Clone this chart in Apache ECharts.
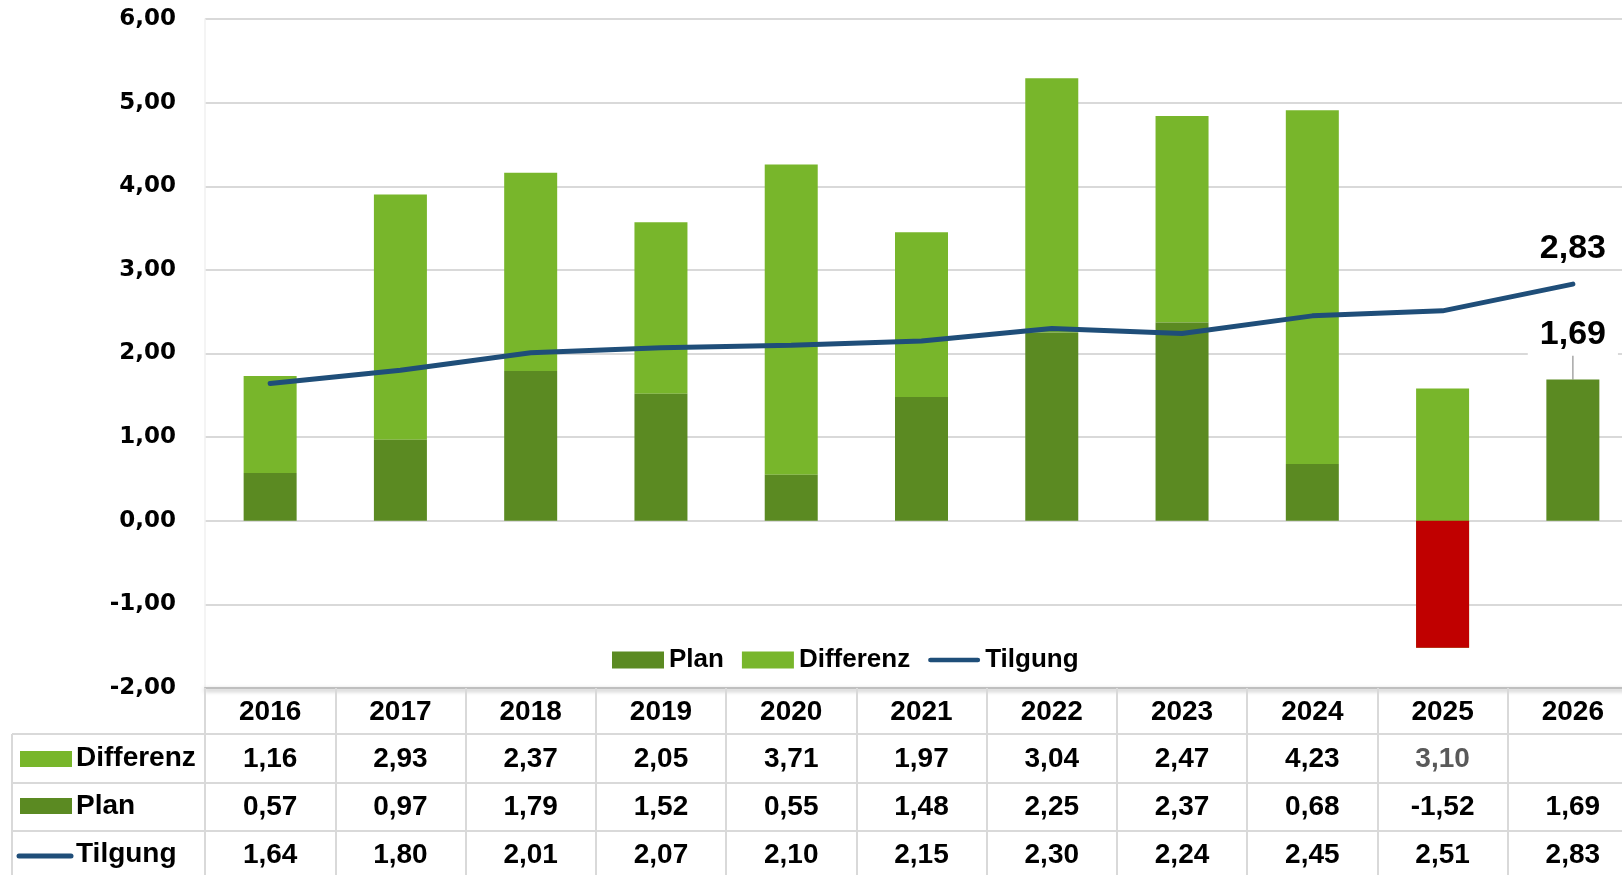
<!DOCTYPE html>
<html>
<head>
<meta charset="utf-8">
<title>Tilgung</title>
<script src="https://cdn.jsdelivr.net/npm/echarts@6/dist/echarts.min.js"></script>
<style>
    html, body { margin: 0; padding: 0; background: #fff; }
    #main { width: 1622px; height: 875px; }
</style>
</head>
<body>
<div id="main"></div>
<script>
// Daten -----------------------------------------
var years = ['2016', '2017', '2018', '2019', '2020', '2021', '2022', '2023', '2024', '2025', '2026'];
var plan = [0.57, 0.97, 1.79, 1.52, 0.55, 1.48, 2.25, 2.37, 0.68, -1.52, 1.69];
var differenz = [1.16, 2.93, 2.37, 2.05, 3.71, 1.97, 3.04, 2.47, 4.23, 3.10, null];
var tilgung = [1.64, 1.80, 2.01, 2.07, 2.10, 2.15, 2.30, 2.24, 2.45, 2.51, 2.83];
var yTicks = [-2, -1, 0, 1, 2, 3, 4, 5, 6];

var cPlan = '#5B8A22';
var cDiff = '#78B62B';
var cNeg = '#C00000';
var cLine = '#1F4E79';
var cGrid = '#D9D9D9';
var txtFont = '"Liberation Sans", Arial, sans-serif';
var tblSize = 28;

function fmt(v) {
    if (v === null || v === undefined) return '';
    return v.toFixed(2).replace('.', ',');
}

var last = years.length - 1;

// Plan: negative Werte rot, Beschriftung nur letzter Wert
var planData = plan.map(function (v, i) {
    var item = {value: v};
    if (v < 0) item.itemStyle = {color: cNeg};
    if (i === last) {
        item.label = {
            show: true,
            position: 'top',
            distance: 0,
            formatter: function (p) { return fmt(p.value); },
            fontSize: 34,
            fontWeight: 'bold',
            color: '#000',
            fontFamily: txtFont,
            backgroundColor: '#fff',
            padding: [2, 12, 4, 12]
        };
        item.labelLine = {show: true, lineStyle: {color: '#A6A6A6', width: 1.5}};
    }
    return item;
});

var tilgData = tilgung.map(function (v, i) {
    var item = {value: v};
    if (i === last) {
        item.symbolSize = 1;
        item.label = {
            show: true,
            position: 'top',
            distance: 18,
            formatter: function (p) { return fmt(p.value); },
            fontSize: 34,
            fontWeight: 'bold',
            color: '#000',
            fontFamily: txtFont
        };
    }
    return item;
});

// Tabellenzeile als zusätzliche x-Achse
function tableRow(values, offset, tickLen, margin) {
    return {
        type: 'category',
        data: years,
        position: 'bottom',
        offset: offset,
        gridIndex: 0,
        axisLine: {show: true, onZero: false, lineStyle: {color: cGrid, width: 2}},
        axisTick: {show: true, interval: 0, length: tickLen, lineStyle: {color: cGrid, width: 2}},
        axisLabel: {
            interval: 0,
            margin: margin,
            fontSize: tblSize,
            fontWeight: 'bold',
            color: '#000',
            fontFamily: txtFont,
            formatter: function (val, idx) {
                var s = fmt(values[idx]);
                // 2025 Differenz grau
                if (values === differenz && idx === 9) return '{g|' + s + '}';
                return s;
            },
            rich: {
                g: {fontSize: tblSize, fontWeight: 'bold', color: '#595959', fontFamily: txtFont}
            }
        },
        splitLine: {show: false}
    };
}

var chart = echarts.init(document.getElementById('main'));

var option = {
    animation: false,
    textStyle: {fontFamily: txtFont},
    grid: {left: 205, right: -16, top: 19, bottom: 187, outerBoundsMode: 'none', containLabel: false},
    legend: {
        left: 607,
        top: 642,
        itemWidth: 52,
        itemHeight: 17,
        itemGap: 18,
        textStyle: {fontSize: 26, fontWeight: 'bold', color: '#000', fontFamily: txtFont},
        data: [
            {name: 'Plan', icon: 'rect'},
            {name: 'Differenz', icon: 'rect'},
            {name: 'Tilgung', icon: 'path://M2,0L54,0A2.5,2.5,0,0,1,54,5L2,5A2.5,2.5,0,0,1,2,0Z'}
        ]
    },
    xAxis: [
        {
            type: 'category',
            data: years,
            position: 'bottom',
            axisLine: {
                show: true,
                onZero: false,
                lineStyle: {
                    color: '#BFBFBF', width: 2,
                    shadowColor: 'rgba(0,0,0,0.35)', shadowBlur: 4, shadowOffsetY: 2
                }
            },
            axisTick: {show: true, interval: 0, length: 46, lineStyle: {color: cGrid, width: 2}},
            axisLabel: {
                interval: 0,
                margin: 10,
                fontSize: tblSize,
                fontWeight: 'bold',
                color: '#000',
                fontFamily: txtFont
            }
        },
        tableRow(differenz, 46, 49, 11),
        tableRow(plan, 95, 48, 10),
        tableRow(tilgung, 143, 50, 10)
    ],
    yAxis: {
        type: 'value',
        min: yTicks[0],
        max: yTicks[yTicks.length - 1],
        interval: 1,
        axisLine: {show: true, lineStyle: {color: '#F0F0F0', width: 1.5}},
        axisTick: {show: false},
        splitLine: {lineStyle: {color: cGrid, width: 2}},
        axisLabel: {
            margin: 29,
            fontSize: 23,
            fontWeight: 'bold',
            color: '#000',
            fontFamily: '"DejaVu Sans", Verdana, sans-serif',
            formatter: function (v) { return fmt(v); }
        }
    },
    series: [
        {
            name: 'Plan',
            type: 'bar',
            stack: 'gesamt',
            stackStrategy: 'all',
            barWidth: 53,
            z: 3,
            itemStyle: {color: cPlan},
            labelLayout: function (params) {
                return params.dataIndex === last ? {dy: -24} : {};
            },
            data: planData
        },
        {
            name: 'Differenz',
            type: 'bar',
            stack: 'gesamt',
            stackStrategy: 'all',
            barWidth: 53,
            z: 2,
            itemStyle: {color: cDiff},
            data: differenz
        },
        {
            name: 'Tilgung',
            type: 'line',
            z: 5,
            symbol: 'circle',
            symbolSize: 0,
            showSymbol: true,
            lineStyle: {color: cLine, width: 5, cap: 'round'},
            itemStyle: {color: cLine},
            data: tilgData
        }
    ],
    // linke Spalte der Datentabelle
    graphic: [
        {type: 'line', shape: {x1: 12, y1: 734, x2: 12, y2: 875}, style: {stroke: cGrid, lineWidth: 2}},
        {type: 'line', shape: {x1: 12, y1: 734, x2: 205, y2: 734}, style: {stroke: cGrid, lineWidth: 2}},
        {type: 'line', shape: {x1: 12, y1: 783, x2: 205, y2: 783}, style: {stroke: cGrid, lineWidth: 2}},
        {type: 'line', shape: {x1: 12, y1: 831, x2: 205, y2: 831}, style: {stroke: cGrid, lineWidth: 2}},
        {type: 'rect', shape: {x: 20, y: 751, width: 52, height: 16}, style: {fill: cDiff}},
        {type: 'rect', shape: {x: 20, y: 798, width: 52, height: 16}, style: {fill: cPlan}},
        {type: 'line', shape: {x1: 19, y1: 856, x2: 71, y2: 856}, style: {stroke: cLine, lineWidth: 5, lineCap: 'round'}},
        {type: 'text', x: 76, y: 758, style: {text: 'Differenz', font: 'bold ' + tblSize + 'px ' + txtFont, fill: '#000', verticalAlign: 'middle'}},
        {type: 'text', x: 76, y: 806, style: {text: 'Plan', font: 'bold ' + tblSize + 'px ' + txtFont, fill: '#000', verticalAlign: 'middle'}},
        {type: 'text', x: 76, y: 854, style: {text: 'Tilgung', font: 'bold ' + tblSize + 'px ' + txtFont, fill: '#000', verticalAlign: 'middle'}}
    ]
};

chart.setOption(option);
</script>
</body>
</html>
